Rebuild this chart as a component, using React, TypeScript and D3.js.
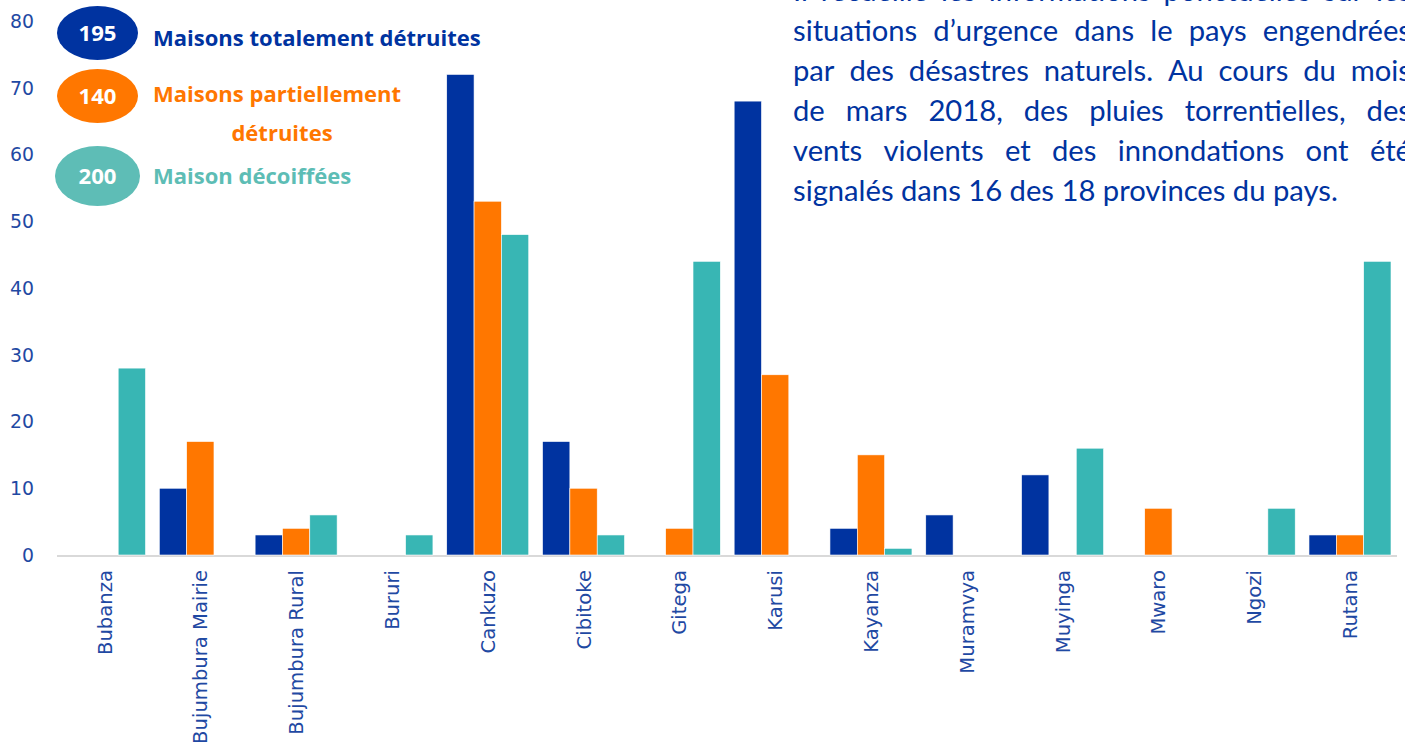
import React, { useEffect, useRef } from "react";
import * as d3 from "d3";

const categories = [
  "Bubanza", "Bujumbura Mairie", "Bujumbura Rural", "Bururi", "Cankuzo", "Cibitoke",
  "Gitega", "Karusi", "Kayanza", "Muramvya", "Muyinga", "Mwaro", "Ngozi", "Rutana",
];
const totalement = [0, 10, 3, 0, 72, 17, 0, 68, 4, 6, 12, 0, 0, 3];
const partiellement = [0, 17, 4, 0, 53, 10, 4, 27, 15, 0, 0, 7, 0, 3];
const decoiffees = [28, 0, 6, 3, 48, 3, 44, 0, 1, 0, 16, 0, 7, 44];
const yTicks = [0, 10, 20, 30, 40, 50, 60, 70, 80];

const seriesNames = ["Maisons totalement détruites", "Maisons partiellement détruites", "Maison décoiffées"];
const seriesTotals = ["195", "140", "200"];
const seriesColors = ["#0033A0", "#FF7700", "#38B6B4"];

const paragraphLines = [
  "Il recueille les informations ponctuelles sur les",
  "situations d\u2019urgence dans le pays engendrées",
  "par des désastres naturels. Au cours du mois",
  "de mars 2018, des pluies torrentielles, des",
  "vents violents et des innondations ont été",
  "signalés dans 16 des 18 provinces du pays.",
];

export default function App() {
  const ref = useRef<SVGSVGElement | null>(null);

  useEffect(() => {
    document.body.style.margin = "0";
    const svg = d3.select(ref.current);
    svg.selectAll("*").remove();

    const fit = (family: string, weight: number, txt: string, target: number) => {
      const t = svg.append("text").attr("font-family", family).attr("font-weight", weight).attr("font-size", 20).text(txt);
      const w = (t.node() as SVGTextElement).getComputedTextLength();
      t.remove();
      return (20 * target) / w;
    };

    const x0 = d3.scaleBand<string>().domain(categories).range([56.6, 1397.9]).paddingInner(0.144).paddingOuter(0.072);
    const keys = ["t", "p", "d"];
    const x1 = d3.scaleBand<string>().domain(keys).range([0, x0.bandwidth()]);
    const y = d3.scaleLinear().domain([0, 80]).range([555, 21]);

    svg.append("line").attr("x1", 57).attr("x2", 1397).attr("y1", y(0) + 1).attr("y2", y(0) + 1)
      .attr("stroke", "#D9D9D9").attr("stroke-width", 2);

    const axisFont = "DejaVu Sans, Verdana, sans-serif";
    const tickSize = fit(axisFont, 400, "80", 24);
    svg.append("g").selectAll("text").data(yTicks).join("text")
      .attr("x", 34).attr("y", (d) => y(d)).attr("dy", "0.36em")
      .attr("text-anchor", "end").attr("font-family", axisFont)
      .attr("font-size", tickSize).attr("fill", "#1F49A3").text((d) => d);

    const rows = categories.map((c, i) => ({ c, t: totalement[i], p: partiellement[i], d: decoiffees[i] }));
    const g = svg.append("g");
    keys.forEach((k, ki) => {
      g.append("g").selectAll("rect").data(rows.filter((r: any) => r[k] > 0)).join("rect")
        .attr("x", (r) => (x0(r.c) as number) + (x1(k) as number))
        .attr("width", x1.bandwidth())
        .attr("y", (r: any) => y(r[k]))
        .attr("height", (r: any) => y(0) - y(r[k]))
        .attr("fill", seriesColors[ki])
        .attr("stroke", "#ffffff").attr("stroke-width", 0.6);
    });

    const catSize = fit(axisFont, 400, "Bujumbura Mairie", 174);
    svg.append("g").selectAll("text").data(categories).join("text")
      .attr("transform", (c) => `translate(${(x0(c) as number) + x0.bandwidth() / 2},570) rotate(-90)`)
      .attr("dy", "0.36em").attr("text-anchor", "end")
      .attr("font-family", axisFont).attr("font-size", catSize)
      .attr("fill", "#1F49A3").text((c) => c);

    // legend
    const legFont = "Open Sans, Lato, sans-serif";
    const legSize = fit(legFont, 700, seriesNames[0], 328);
    const numSize = fit(legFont, 700, seriesTotals[0], 38);
    const legend = svg.append("g");
    const ell = [
      { cx: 97.5, cy: 33, rx: 40.5, ry: 27, fill: "#0033A0" },
      { cx: 97.5, cy: 96, rx: 40.5, ry: 27, fill: "#FF7700" },
      { cx: 97.5, cy: 176, rx: 42.5, ry: 30, fill: "#5EBDB6" },
    ];
    ell.forEach((e, i) => {
      legend.append("ellipse").attr("cx", e.cx).attr("cy", e.cy).attr("rx", e.rx).attr("ry", e.ry).attr("fill", e.fill);
      legend.append("text").attr("x", e.cx).attr("y", e.cy).attr("dy", "0.36em").attr("text-anchor", "middle")
        .attr("font-family", legFont).attr("font-weight", 700).attr("font-size", numSize)
        .attr("fill", "#ffffff").text(seriesTotals[i]);
    });
    const addT = (x: number, yy: number, txt: string, fill: string, anchor = "start") =>
      legend.append("text").attr("x", x).attr("y", yy).attr("dy", "0.36em").attr("text-anchor", anchor)
        .attr("font-family", legFont).attr("font-weight", 700).attr("font-size", legSize)
        .attr("fill", fill).text(txt);
    addT(153, 38, seriesNames[0], "#0033A0");
    addT(153, 94, "Maisons partiellement", "#FF7700");
    addT(282, 133, "détruites", "#FF7700", "middle");
    addT(153, 176, seriesNames[2], "#5DBDB5");

    // paragraph
    const paraFont = "Lato, sans-serif";
    const paraSize = fit(paraFont, 400, paragraphLines[5], 545);
    const para = svg.append("g").attr("font-family", paraFont).attr("font-size", paraSize).attr("fill", "#0033A0");
    const left = 793, right = 1411;
    paragraphLines.forEach((line, li) => {
      const base = 1 + li * 40;
      const words = line.split(" ");
      if (li === paragraphLines.length - 1) {
        para.append("text").attr("x", left).attr("y", base).text(line);
        return;
      }
      const nodes = words.map((w) => para.append("text").attr("y", base).text(w));
      const widths = nodes.map((n) => (n.node() as SVGTextElement).getComputedTextLength());
      const sum = d3.sum(widths);
      const gap = (right - left - sum) / (words.length - 1);
      let cx = left;
      nodes.forEach((n, i) => { n.attr("x", cx); cx += widths[i] + gap; });
    });
  }, []);

  return <svg ref={ref} width={1405} height={746} style={{ display: "block", background: "#fff" }} />;
}
